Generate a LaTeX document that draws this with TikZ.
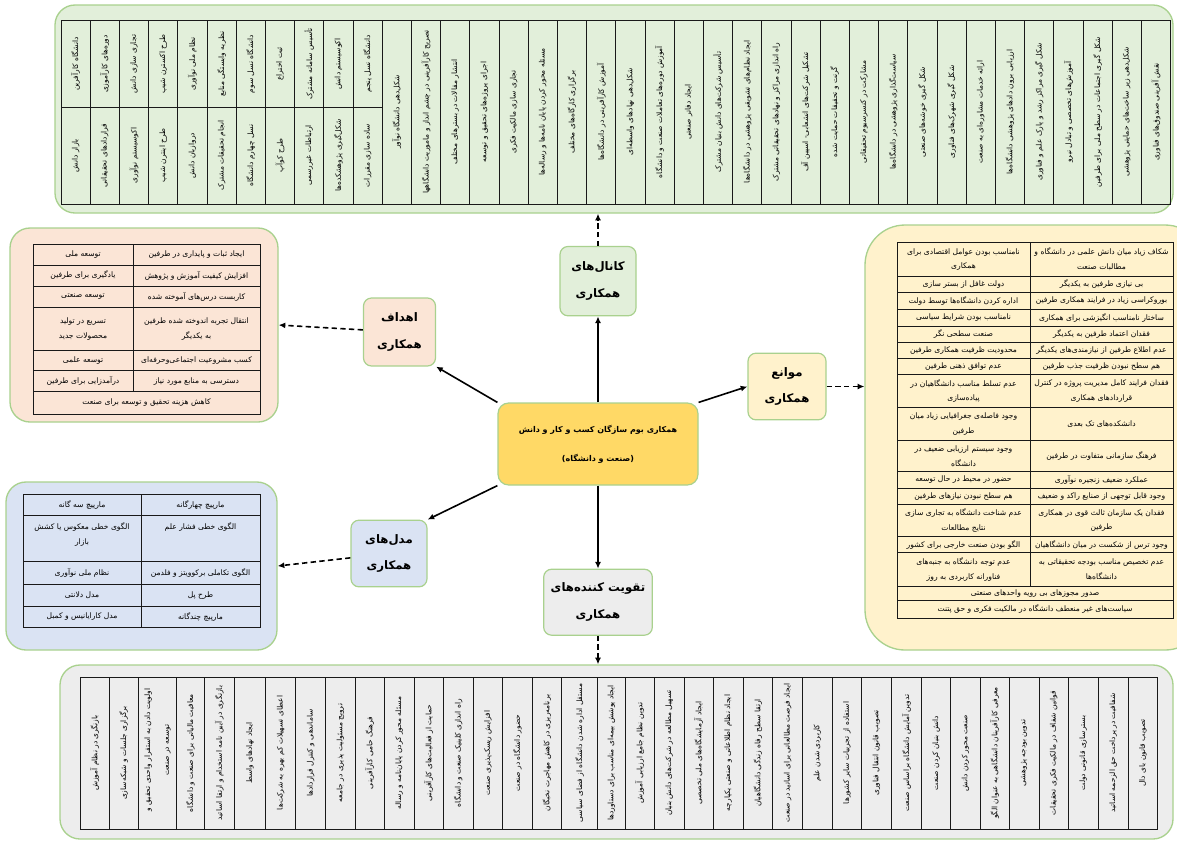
\documentclass[tikz,border=0pt]{standalone}
\usepackage{fontspec}
\newfontfamily\arabicfont[Script=Arabic]{DejaVu Sans}
\TeXXeTstate=1
\newcommand{\fa}[1]{\beginR #1\endR}
\usepackage{tikz}
\usetikzlibrary{positioning}
\usetikzlibrary{arrows.meta}
\usetikzlibrary{fit}

\definecolor{linegreen}{HTML}{A9D18E}
\definecolor{chanfill}{HTML}{E2EFDA}
\definecolor{goalfill}{HTML}{FBE5D6}
\definecolor{modelfill}{HTML}{DAE3F3}
\definecolor{barfill}{HTML}{FFF2CC}
\definecolor{boostfill}{HTML}{EDEDED}
\definecolor{hubfill}{HTML}{FFD966}

\tikzset{
    panel/.style={draw=linegreen, line width=1pt, rounded corners=15pt, inner sep=0pt},
    topic/.style={draw=linegreen, line width=0.9pt, rounded corners=6pt, align=center, inner sep=0pt,
        font=\arabicfont\bfseries\fontsize{8.8}{20}\selectfont},
    hubbox/.style={draw=linegreen, line width=0.9pt, rounded corners=8pt, fill=hubfill, align=center,
        minimum width=150pt, minimum height=61.5pt, inner sep=0pt,
        font=\arabicfont\bfseries\fontsize{6.0}{22}\selectfont},
    coltext/.style={rotate=90, inner sep=0pt, align=center, font=\arabicfont\fontsize{5.6}{14}\selectfont},
    cell/.style={inner sep=0pt, align=center, font=\arabicfont\fontsize{5.7}{11}\selectfont},
    tabline/.style={line width=0.6pt, black!90},
    solidarr/.style={-{Latex[length=5pt,width=4.5pt]}, line width=1.2pt},
    dasharr/.style={-{Latex[length=5pt,width=4.5pt]}, line width=1.2pt, dash pattern=on 4pt off 2.5pt},
}

\begin{document}
\begin{tikzpicture}[x=0.75pt, y=-0.75pt]
    \useasboundingbox (0,0) rectangle (1177,840);
    %% 外框
    \node[panel, fill=chanfill, fit={(55,5) (1173,213)}] (chanpanel) {};
    \node[panel, fill=goalfill, fit={(10,228) (278,422)}] (goalpanel) {};
    \node[panel, fill=modelfill, fit={(6,482) (277,650)}] (modelpanel) {};
    \node[panel, fill=barfill, rounded corners=30pt, fit={(865,225) (1205,650)}] (barpanel) {};
    \node[panel, fill=boostfill, fit={(60,665) (1173,839)}] (boostpanel) {};

    %% 上表
    \draw[tabline] (61,20.7) rectangle (1170.6,204);
    \draw[tabline] (61,107) -- (382.2,107);
    \foreach \i in {1,...,37}
        \draw[tabline] ({61+29.2*\i},20.7) -- ({61+29.2*\i},204);
    \foreach \up/\dn [count=\i] in {دانشگاه کارآفرین/بازار دانش,
        دوره‌های کارآموزی/قراردادهای تحقیقاتی,
        تجاری سازی دانش/اکوسیستم نوآوری,
        طرح اکسترن شیپ/طرح اینترن شیپ,
        نظام ملی نوآوری/دروازبان دانش,
        نظریه وابستگی منابع/انجام تحقیقات مشترک,
        دانشگاه نسل سوم/نسل چهارم دانشگاه,
        ثبت اختراع/طرح کوآپ,
        تأسیس سامانه مشترک/ارتباطات غیررسمی,
        اکوسیستم دانش/شکل‌گیری پژوهشکده‌ها,
        دانشگاه نسل پنجم/ساده سازی مقررات}{
        \node[coltext] (ct\i) at ({61+29.2*(\i-0.5)},64) {\fa{\up}};
        \node[coltext] (cb\i) at ({61+29.2*(\i-0.5)},155.5) {\fa{\dn}};
    }
    \foreach \txt [count=\i] in {شکل‌دهی دانشگاه نوآور,
        تصریح کارآفرینی در چشم انداز و ماموریت دانشگاهها,
        انتشار مقالات در بسترهای مختلف,
        اجرای پروژه‌های تحقیق و توسعه,
        تجاری سازی مالکیت فکری,
        مسئله محور کردن پایان نامه‌ها و رساله‌ها,
        برگزاری کارگاه‌های مختلف,
        آموزش کارآفرینی در دانشگاه‌ها,
        شکل‌دهی نهادهای واسطه‌ای,
        آموزش دوره‌های تعاملات صنعت و دانشگاه,
        ایجاد دفاتر صنعتی,
        تأسیس شرکت‌های دانش بنیان مشترک,
        ایجاد نظام‌های تشویقی پژوهشی در دانشگاه‌ها,
        راه اندازی مراکز و نهادهای تحقیقاتی مشترک,
        تشکیل شرکت‌های انشعابی- اسپین آف,
        گرنت و تحقیقات حمایت شده,
        مشارکت در کنسرسیوم تحقیقاتی,
        سیاست‌گذاری پژوهشی در دانشگاه‌ها,
        شکل گیری خوشه‌های صنعتی,
        شکل گیری شهرک‌های فناوری,
        ارائه خدمات مشاوره‌ای به صنعت,
        ارزیابی برون دادهای پژوهشی دانشگاه‌ها,
        شکل گیری مراکز رشد و پارک علم و فناوری,
        آموزش‌های تخصصی و تبادل نیرو,
        شکل گیری اجتماعات در سطح ملی برای طرفین,
        شکل‌دهی زیر ساخت‌های حمایتی پژوهشی,
        نقش آفرینی صندوق‌های فناوری}
        \node[coltext] (cs\i) at ({61+29.2*(\i+10.5)},112) {\fa{\txt}};

    %% 下表
    \draw[tabline] (80,677) rectangle (1157.7,829);
    \foreach \x in {109.3,138.3,176.7,204,234.3,265.7,295.7,325.7,355,384.3,414,443.3,473.3,502.7,
        532.3,561.7,597.7,625,654.3,684,713.3,743.3,772.7,802.5,832.3,861.7,891,921.7,950.7,980,
        1009.3,1039,1068.3,1098.3,1128.3}
        \draw[tabline] (\x,677) -- (\x,829);
    \foreach \x/\txt [count=\i] in {94.7/بازنگری در نظام آموزش,
        123.8/برگزاری جلسات و شبکه‌سازی,
        190.4/معافیت مالیاتی برای صنعت و دانشگاه,
        219.2/بازنگری در آیین نامه استخدام و ارتقا اساتید,
        250/ایجاد نهادهای واسط,
        280.7/اعطای تسهیلات کم بهره به شرکت‌ها,
        310.7/ساماندهی و کنترل قراردادها,
        340.4/ترویج مسئولیت پذیری در جامعه,
        369.7/فرهنگ حامی کارآفرینی,
        399.2/مسئله محور کردن پایان‌نامه و رساله,
        428.7/حمایت از فعالیت‌های کارآفرینی,
        458.3/راه اندازی کلینیک صنعت و دانشگاه,
        488/افزایش ریسک‌پذیری صنعت,
        517.5/حضور دانشگاه در صنعت,
        547/برنامه‌ریزی در کاهش مهاجرت نخبگان,
        579.7/مستقل اداره شدن دانشگاه از فضای سیاسی,
        611.4/ایجاد پوشش بیمه‌ای مناسب برای دستاوردها,
        639.7/تدوین نظام جامع ارزیابی آموزش,
        669.2/تسهیل مطالعه در شرکت‌های دانش بنیان,
        698.7/ایجاد آزمایشگاه‌های ملی تخصصی,
        728.3/ایجاد نظام اطلاعاتی و صنعتی یکپارچه,
        758/ارتقا سطح رفاه زندگی دانشگاهیان,
        787.6/ایجاد فرصت مطالعاتی برای اساتید در صنعت,
        817.4/کاربردی شدن علم,
        847/استفاده از تجربیات سایر کشورها,
        876.4/تصویب قانون انتقال فناوری,
        906.4/تدوین آمایش دانشگاه براساس صنعت,
        936.2/دانش بنیان کردن صنعت,
        965.4/صنعت محور کردن دانش,
        994.7/معرفی کارآفرینان دانشگاهی به عنوان الگو,
        1024.2/تدوین بودجه پژوهشی,
        1053.7/قوانین شفاف در مالکیت فکری تحقیقات,
        1083.3/بسترسازی قانونی دولت,
        1113.3/شفافیت در پرداخت حق الزحمه اساتید,
        1143/تصویب قانون بای دال}
        \node[coltext] (bt\i) at (\x,753) {\fa{\txt}};
    \node[coltext] (btwo) at (157.5,750) {\fa{اولویت دادن به استقرار واحدی تحقیق و}\\\fa{توسعه در صنعت}};

    %% 目标表
    \draw[tabline] (33,244) rectangle (260,414.3);
    \draw[tabline] (133,244) -- (133,391.7);
    \foreach \y in {265,286,307.3,350,370.7,391.7}
        \draw[tabline] (33,\y) -- (260,\y);
    \foreach \y/\rt/\lt [count=\i] in {254.5/ایجاد ثبات و پایداری در طرفین/توسعه ملی,
        275.5/افزایش کیفیت آموزش و پژوهش/یادگیری برای طرفین,
        296.7/کاربست درس‌های آموخته شده/توسعه صنعتی,
        360.3/کسب مشروعیت اجتماعی‌وحرفه‌ای/توسعه علمی,
        381.2/دسترسی به منابع مورد نیاز/درآمدزایی برای طرفین}{
        \node[cell] (gr\i) at (196.5,\y) {\fa{\rt}};
        \node[cell] (gl\i) at (83,\y) {\fa{\lt}};
    }
    \node[cell] (grx) at (196.5,328.7) {\fa{انتقال تجربه اندوخته شده طرفین}\\\fa{به یکدیگر}};
    \node[cell] (glx) at (83,328.7) {\fa{تسریع در تولید}\\\fa{محصولات جدید}};
    \node[cell] (gm) at (146.5,403) {\fa{کاهش هزینه تحقیق و توسعه برای صنعت}};

    %% 模型表
    \draw[tabline] (23,494) rectangle (260,627.3);
    \draw[tabline] (141,494) -- (141,627.3);
    \foreach \y in {515.7,561.3,584,606.3}
        \draw[tabline] (23,\y) -- (260,\y);
    \foreach \y/\rt/\lt [count=\i] in {504.8/مارپیچ چهارگانه/مارپیچ سه گانه,
        572.7/الگوی تکاملی برکوویتز و فلدمن/نظام ملی نوآوری,
        595.2/طرح پل/مدل دلانتی,
        616.8/مارپیچ چندگانه/مدل کارایانیس و کمبل}{
        \node[cell] (mr\i) at (200.5,\y) {\fa{\rt}};
        \node[cell] (ml\i) at (82,\y) {\fa{\lt}};
    }
    \node[cell] (mrx) at (200.5,527.3) {\fa{الگوی خطی فشار علم}};
    \node[cell] (mlx) at (82,534.3) {\fa{الگوی خطی معکوس یا کشش}\\\fa{بازار}};

    %% 障碍表
    \draw[tabline] (897,242.7) rectangle (1173,618);
    \draw[tabline] (1030,242.7) -- (1030,586);
    \foreach \y in {276,292.7,309.3,326,342,358.7,374.3,407.7,440,471.7,488.3,504,536.7,552.7,586,600.7}
        \draw[tabline] (897,\y) -- (1173,\y);
    \foreach \y/\rt/\lt [count=\i] in {284.4/بی نیازی طرفین به یکدیگر/دولت غافل از بستر سازی,
        301/بوروکراسی زیاد در فرایند همکاری طرفین/اداره کردن دانشگاه‌ها توسط دولت,
        317.7/ساختار نامناسب انگیزشی برای همکاری/نامناسب بودن شرایط سیاسی,
        334/فقدان اعتماد طرفین به یکدیگر/صنعت سطحی نگر,
        350.4/عدم اطلاع طرفین از نیازمندی‌های یکدیگر/محدودیت ظرفیت همکاری طرفین,
        366.5/هم سطح نبودن ظرفیت جذب طرفین/عدم توافق ذهنی طرفین,
        480/عملکرد ضعیف زنجیره نوآوری/حضور در محیط در حال توسعه,
        496.2/وجود قابل توجهی از صنایع راکد و ضعیف/هم سطح نبودن نیازهای طرفین,
        544.7/وجود ترس از شکست در میان دانشگاهیان/الگو بودن صنعت خارجی برای کشور}{
        \node[cell] (br\i) at (1101.5,\y) {\fa{\rt}};
        \node[cell] (bl\i) at (963.5,\y) {\fa{\lt}};
    }
    \node[cell] (bra) at (1101.5,259.4) {\fa{شکاف زیاد میان دانش علمی در دانشگاه و}\\\fa{مطالبات صنعت}};
    \node[cell] (bla) at (963.5,259.4) {\fa{نامناسب بودن عوامل اقتصادی برای}\\\fa{همکاری}};
    \node[cell] (brb) at (1101.5,391) {\fa{فقدان فرایند کامل مدیریت پروژه در کنترل}\\\fa{قراردادهای همکاری}};
    \node[cell] (blb) at (963.5,391) {\fa{عدم تسلط مناسب دانشگاهیان در}\\\fa{پیاده‌سازی}};
    \node[cell] (brc) at (1101.5,423.9) {\fa{دانشکده‌های تک بعدی}};
    \node[cell] (blc) at (963.5,423.9) {\fa{وجود فاصله‌ی جغرافیایی زیاد میان}\\\fa{طرفین}};
    \node[cell] (brd) at (1101.5,455.9) {\fa{فرهنگ سازمانی متفاوت در طرفین}};
    \node[cell] (bld) at (963.5,455.9) {\fa{وجود سیستم ارزیابی ضعیف در}\\\fa{دانشگاه}};
    \node[cell] (bre) at (1101.5,520.4) {\fa{فقدان یک سازمان ثالث قوی در همکاری}\\\fa{طرفین}};
    \node[cell] (ble) at (963.5,520.4) {\fa{عدم شناخت دانشگاه به تجاری سازی}\\\fa{نتایج مطالعات}};
    \node[cell] (brf) at (1101.5,569.4) {\fa{عدم تخصیص مناسب بودجه تحقیقاتی به}\\\fa{دانشگاه‌ها}};
    \node[cell] (blf) at (963.5,569.4) {\fa{عدم توجه دانشگاه به جنبه‌های}\\\fa{فناورانه کاربردی به روز}};
    \node[cell] (bmg) at (1035,593.4) {\fa{صدور مجوزهای بی رویه واحدهای صنعتی}};
    \node[cell] (bmh) at (1035,609.4) {\fa{سیاست‌های غیر منعطف دانشگاه در مالکیت فکری و حق پتنت}};

    %% 中心节点
    \node[hubbox] (hub) at (598,444) {\fa{همکاری بوم سازگان کسب و کار و دانش}\\\fa{(صنعت و دانشگاه)}};
    \node[topic, fill=chanfill, minimum width=57pt, minimum height=52pt, above=64.5pt of hub] (chan) {\fa{کانال‌های}\\\fa{همکاری}};
    \node[topic, fill=goalfill, minimum width=54pt, minimum height=51pt] (goals) at (399.5,332) {\fa{اهداف}\\\fa{همکاری}};
    \node[topic, fill=barfill, minimum width=58.5pt, minimum height=50pt] (barriers) at (787,386.5) {\fa{موانع}\\\fa{همکاری}};
    \node[topic, fill=modelfill, minimum width=57pt, minimum height=50pt] (models) at (389,553.5) {\fa{مدل‌های}\\\fa{همکاری}};
    \node[topic, fill=boostfill, minimum width=81.5pt, minimum height=49.5pt, below=62.25pt of hub] (boost) {\fa{تقویت کننده‌های}\\\fa{همکاری}};

    % 连线
    \draw[solidarr] (hub) -- (chan);
    \draw[solidarr] (hub.north west) -- (goals.south east);
    \draw[solidarr] (hub.north east) -- (barriers.west);
    \draw[solidarr] (hub.south west) -- (models.north east);
    \draw[solidarr] (hub) -- (boost);
    \draw[dasharr] (chan) -- (chan |- chanpanel.south);
    \draw[dasharr] (goals) -- (goalpanel.east);
    \draw[dasharr] (barriers) -- (barriers -| barpanel.west);
    \draw[dasharr] (models) -- (modelpanel.east);
    \draw[dasharr] (boost) -- (boost |- boostpanel.north);
\end{tikzpicture}
\end{document}
